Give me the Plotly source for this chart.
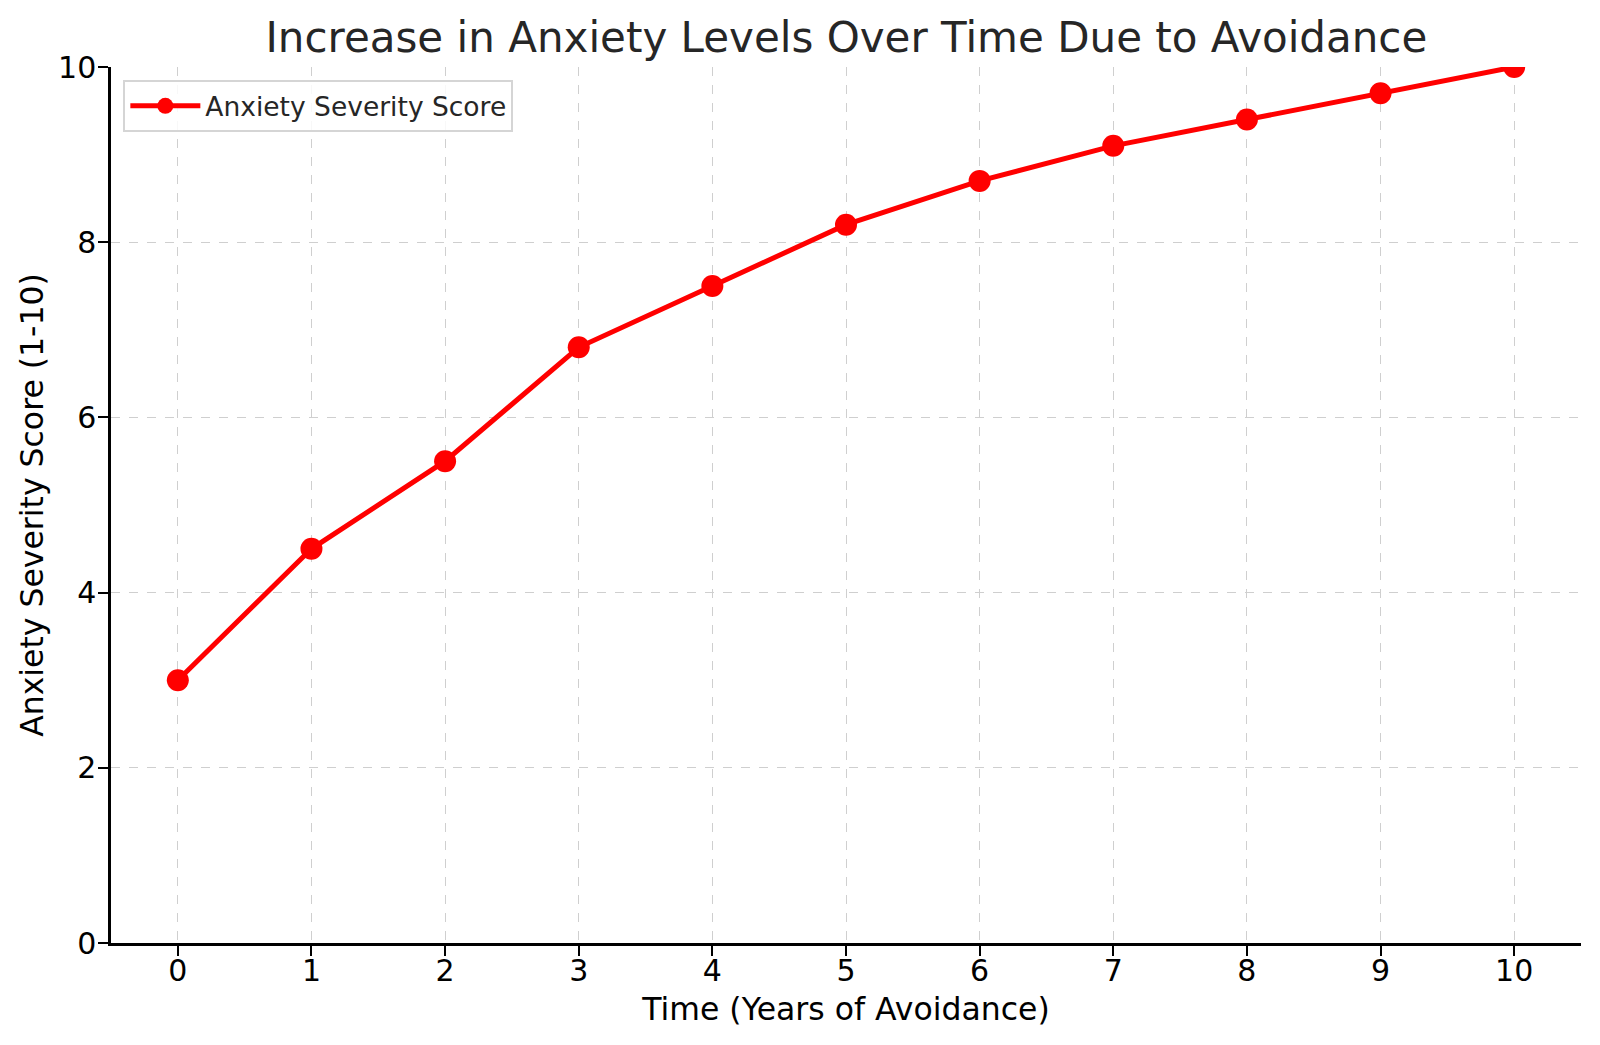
import plotly.graph_objects as go

years = [0, 1, 2, 3, 4, 5, 6, 7, 8, 9, 10]
anxiety_scores = [3.0, 4.5, 5.5, 6.8, 7.5, 8.2, 8.7, 9.1, 9.4, 9.7, 10.0]
x_ticks = [0, 1, 2, 3, 4, 5, 6, 7, 8, 9, 10]
y_ticks = [0, 2, 4, 6, 8, 10]

title_text = "Increase in Anxiety Levels Over Time Due to Avoidance"
x_label = "Time (Years of Avoidance)"
y_label = "Anxiety Severity Score (1-10)"
series_name = "Anxiety Severity Score"

FONT = "DejaVu Sans"

fig = go.Figure()
fig.add_trace(go.Scatter(
    x=years, y=anxiety_scores, mode="lines+markers", name=series_name,
    line=dict(color="#ff0000", width=5),
    marker=dict(color="#ff0000", size=22, line=dict(width=0)),
))

fig.update_layout(
    width=1600, height=1045,
    paper_bgcolor="white", plot_bgcolor="white",
    margin=dict(l=111, r=19, t=67, b=102, autoexpand=False),
    font=dict(family=FONT, color="#000000"),
    title=dict(text=title_text, x=0.529, xanchor="center", y=0.9643, yanchor="middle",
               font=dict(family=FONT, size=42, color="#262626")),
    showlegend=True,
    legend=dict(x=0.0084, y=0.985, xanchor="left", yanchor="top",
                bgcolor="rgba(255,255,255,0.85)", bordercolor="#d5d5d5", borderwidth=2,
                itemwidth=70,
                font=dict(family=FONT, size=26.5, color="#262626")),
)

fig.update_xaxes(
    range=[-0.5, 10.5], tickmode="array", tickvals=x_ticks,
    ticks="outside", ticklen=10, tickwidth=2, tickcolor="#000000",
    ticklabelstandoff=-11,
    tickfont=dict(family=FONT, size=30, color="#000000"),
    showline=True, linecolor="#000000", linewidth=2.5, mirror=False,
    showgrid=True, gridcolor="#cfcfcf", gridwidth=1.3, griddash="dash",
    zeroline=False, automargin=False,
    title=dict(text=x_label, font=dict(family=FONT, size=31.5, color="#000000"), standoff=12),
)
fig.update_yaxes(
    range=[0, 10], tickmode="array", tickvals=y_ticks,
    ticks="outside", ticklen=10, tickwidth=2, tickcolor="#000000",
    ticklabelstandoff=-4,
    tickfont=dict(family=FONT, size=30, color="#000000"),
    showline=True, linecolor="#000000", linewidth=2.5, mirror=False,
    showgrid=True, gridcolor="#cfcfcf", gridwidth=1.3, griddash="dash",
    zeroline=False, automargin=False,
    title=dict(text=y_label, font=dict(family=FONT, size=31.5, color="#000000"), standoff=6),
)

fig.write_html(
    "out.html",
    config={"displayModeBar": False},
    post_script="document.body.style.margin='0';document.body.style.overflow='hidden';",
)
